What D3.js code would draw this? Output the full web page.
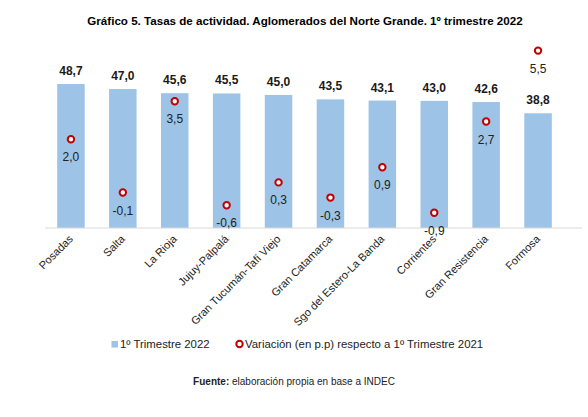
<!DOCTYPE html>
<html>
<head>
<meta charset="utf-8">
<script src="https://cdn.jsdelivr.net/npm/d3@7"></script>
<style>
  body { margin: 0; background: #fff; }
  svg { font-family: Arial, "Liberation Sans", sans-serif; }
</style>
</head>
<body>
<svg id="chart" width="588" height="417"></svg>
<script>
// data
const aglomerados = ["Posadas", "Salta", "La Rioja", "Jujuy-Palpalá", "Gran Tucumán-Tafí Viejo",
  "Gran Catamarca", "Sgo del Estero-La Banda", "Corrientes", "Gran Resistencia", "Formosa"];
const tasa2022 = [48.7, 47.0, 45.6, 45.5, 45.0, 43.5, 43.1, 43.0, 42.6, 38.8];
const variacion = [2.0, -0.1, 3.5, -0.6, 0.3, -0.3, 0.9, -0.9, 2.7, 5.5];
const seriesNames = ["1º Trimestre 2022", "Variación (en p.p) respecto a 1º Trimestre 2021"];

const barColor = "#9dc3e6";
const red = "#c00000";
const esLocale = d3.formatLocale({decimal: ",", thousands: ".", grouping: [3], currency: ["$", ""], minus: "-"});
const fmt = esLocale.format(".1f");

const svg = d3.select("#chart");
const margin = {left: 45, right: 24, top: 50.6, bottom: 189};
const baseY = 228;

const x = d3.scaleBand()
  .domain(aglomerados)
  .range([margin.left, 564])
  .paddingInner(0.47)
  .paddingOuter(0.235);

const y = d3.scaleLinear().domain([0, 60]).range([baseY, margin.top]);
const y2 = d3.scaleLinear().domain([-1.5, 5.5]).range([baseY, margin.top]);

// title
svg.append("text")
  .attr("x", 305).attr("y", 25)
  .attr("text-anchor", "middle")
  .style("font-size", "11.6px")
  .style("font-weight", "bold")
  .text("Gráfico 5. Tasas de actividad. Aglomerados del Norte Grande. 1º trimestre 2022");

// bars
svg.append("g").selectAll("rect")
  .data(tasa2022)
  .join("rect")
  .attr("x", (d, i) => x(aglomerados[i]))
  .attr("y", d => y(d))
  .attr("width", x.bandwidth())
  .attr("height", d => y(0) - y(d))
  .attr("fill", barColor);

svg.append("g").selectAll("text")
  .data(tasa2022)
  .join("text")
  .attr("x", (d, i) => x(aglomerados[i]) + x.bandwidth() / 2)
  .attr("y", d => y(d) - 9)
  .attr("text-anchor", "middle")
  .style("font-size", "12px")
  .style("font-weight", "bold")
  .attr("fill", "#1a1a1a")
  .text(d => fmt(d));

// axis line
svg.append("line")
  .attr("x1", margin.left).attr("x2", 582)
  .attr("y1", baseY).attr("y2", baseY)
  .attr("stroke", "#d9d9d9").attr("stroke-width", 1);

// x labels
const xAxis = svg.append("g")
  .attr("transform", `translate(0,${baseY})`)
  .call(d3.axisBottom(x).tickSize(0).tickPadding(0));
xAxis.select(".domain").remove();
xAxis.selectAll("text")
  .attr("transform", "translate(0,9) rotate(-45)")
  .attr("dy", "0.35em")
  .attr("text-anchor", "end")
  .style("font-size", "11px")
  .style("font-family", "Arial, 'Liberation Sans', sans-serif")
  .attr("fill", "#222");

// markers
const cx = (d, i) => x(aglomerados[i]) + x.bandwidth() / 2;
svg.append("g").selectAll("circle")
  .data(variacion)
  .join("circle")
  .attr("cx", cx)
  .attr("cy", d => y2(d))
  .attr("r", 3.2)
  .attr("fill", "#fff")
  .attr("stroke", red)
  .attr("stroke-width", 2);

svg.append("g").selectAll("text")
  .data(variacion)
  .join("text")
  .attr("x", cx)
  .attr("y", d => y2(d) + 22)
  .attr("text-anchor", "middle")
  .style("font-size", "12px")
  .attr("fill", "#222")
  .text(d => fmt(d));

// legend
const leg = svg.append("g").attr("transform", "translate(0,348)");
leg.append("rect")
  .attr("x", 111.5).attr("y", -7).attr("width", 6.5).attr("height", 6.5)
  .attr("fill", barColor);
leg.append("text")
  .attr("x", 120).attr("y", 0)
  .style("font-size", "11.4px").attr("fill", "#222")
  .text(seriesNames[0]);
leg.append("circle")
  .attr("cx", 239.5).attr("cy", -4).attr("r", 3.2)
  .attr("fill", "#fff").attr("stroke", red).attr("stroke-width", 2);
leg.append("text")
  .attr("x", 245).attr("y", 0)
  .style("font-size", "11.4px").attr("fill", "#222")
  .text(seriesNames[1]);

// source
const src = svg.append("text")
  .attr("x", 294).attr("y", 385)
  .attr("text-anchor", "middle")
  .style("font-size", "10px")
  .attr("fill", "#222");
src.append("tspan").style("font-weight", "bold").text("Fuente:");
src.append("tspan").text(" elaboración propia en base a INDEC");
</script>
</body>
</html>
